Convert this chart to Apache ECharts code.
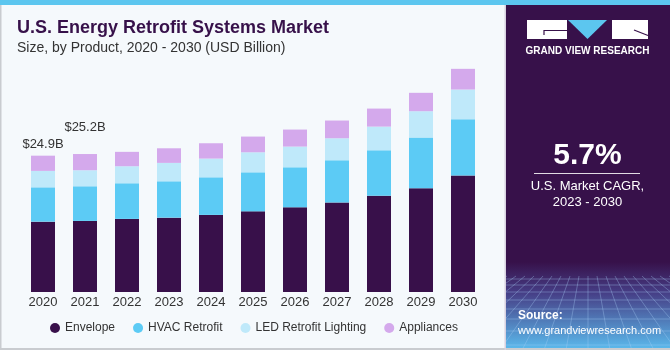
<!DOCTYPE html>
<html>
<head>
<meta charset="utf-8">
<title>U.S. Energy Retrofit Systems Market</title>
<script src="https://cdn.jsdelivr.net/npm/echarts@6/dist/echarts.min.js"></script>
<style>
    html, body { margin: 0; padding: 0; background: #f5f9fc; }
    #chart { width: 670px; height: 350px; }
</style>
</head>
<body>
<div id="chart"></div>
<script>
    // values (USD Billion)
    var years = ['2020', '2021', '2022', '2023', '2024', '2025', '2026', '2027', '2028', '2029', '2030'];
    var envelope = [12.85, 12.98, 13.35, 13.58, 14.08, 14.73, 15.47, 16.33, 17.60, 18.94, 21.26];
    var hvac = [6.27, 6.33, 6.51, 6.64, 6.87, 7.13, 7.31, 7.73, 8.28, 9.27, 10.29];
    var led = [3.00, 2.93, 3.11, 3.36, 3.42, 3.66, 3.78, 4.02, 4.33, 4.81, 5.43];
    var appliances = [2.78, 2.96, 2.63, 2.67, 2.80, 2.87, 3.11, 3.24, 3.29, 3.36, 3.78];
    var totalLabels = ['$24.9B', '$25.2B'];

    var font = 'Liberation Sans, Arial, sans-serif';
    var panel = '#37114a';

    // only the first two bars carry a total label
    var appData = appliances.map(function (v, i) {
        if (i < totalLabels.length) {
            return {
                value: v,
                label: {
                    show: true,
                    position: 'top',
                    distance: 5,
                    offset: [0, i === 1 ? -15 : 0],
                    formatter: totalLabels[i],
                    fontSize: 13,
                    color: '#333',
                    fontFamily: font
                }
            };
        }
        return v;
    });

    // background mesh in the bottom of the side panel
    var mesh = [];
    var meshY = [279, 285, 292, 300, 309, 319, 331, 345];
    meshY.forEach(function (y) {
        mesh.push({ type: 'line', shape: { x1: 506, y1: y, x2: 670, y2: y },
            style: { stroke: 'rgba(170,205,245,0.35)', lineWidth: 1 } });
    });
    for (var k = -10; k <= 10; k++) {
        mesh.push({ type: 'line', shape: { x1: 588 + k * 9, y1: 276, x2: 588 + k * 22, y2: 350 },
            style: { stroke: 'rgba(170,205,245,0.35)', lineWidth: 1 } });
    }

    var myChart = echarts.init(document.getElementById('chart'));
    var option = {
        backgroundColor: '#f5f9fc',
        textStyle: { fontFamily: font },
        animation: false,
        title: [
            {
                text: 'U.S. Energy Retrofit Systems Market',
                left: 17, top: 19, padding: 0,
                textStyle: { fontSize: 18, fontWeight: 'bold', color: panel, fontFamily: font }
            },
            {
                text: 'Size, by Product, 2020 - 2030 (USD Billion)',
                left: 17, top: 41, padding: 0,
                textStyle: { fontSize: 14, fontWeight: 'normal', color: '#333', fontFamily: font }
            }
        ],
        legend: {
            left: 50, top: 322, padding: 0,
            icon: 'circle', itemWidth: 10, itemHeight: 10, itemGap: 18,
            textStyle: { fontSize: 12, color: '#333', fontFamily: font },
            data: ['Envelope', 'HVAC Retrofit', 'LED Retrofit Lighting', 'Appliances']
        },
        grid: { left: 22, right: 186, top: 18.25, bottom: 58 },
        xAxis: {
            type: 'category',
            data: years,
            axisLine: { show: false },
            axisTick: { show: false },
            axisLabel: { margin: 4, fontSize: 13, color: '#333', fontFamily: font }
        },
        yAxis: { type: 'value', min: 0, max: 50, show: false },
        series: [
            { name: 'Envelope', type: 'bar', stack: 'total', barWidth: 24,
                itemStyle: { color: '#38104a' }, data: envelope },
            { name: 'HVAC Retrofit', type: 'bar', stack: 'total', barWidth: 24,
                itemStyle: { color: '#5ccbf5' }, data: hvac },
            { name: 'LED Retrofit Lighting', type: 'bar', stack: 'total', barWidth: 24,
                itemStyle: { color: '#bfe9fa' }, data: led },
            { name: 'Appliances', type: 'bar', stack: 'total', barWidth: 24,
                itemStyle: { color: '#d4a9ec' }, data: appData }
        ],
        graphic: [
            // side panel
            { type: 'rect', shape: { x: 506, y: 0, width: 164, height: 350 }, style: { fill: panel } },
            { type: 'rect', shape: { x: 506, y: 262, width: 164, height: 88 },
                style: { fill: new echarts.graphic.LinearGradient(0, 0, 0, 1, [
                    { offset: 0, color: 'rgba(55,17,74,1)' },
                    { offset: 0.35, color: '#463e86' },
                    { offset: 1, color: '#5bbcee' }
                ]) } },
            { type: 'group', children: mesh },
            // chart area background covers the mesh overflow
            { type: 'rect', shape: { x: 0, y: 0, width: 505, height: 350 }, style: { fill: '#f5f9fc' } },
            { type: 'rect', shape: { x: 0, y: 0, width: 1.5, height: 350 }, style: { fill: '#c9ccd0' } },
            { type: 'rect', shape: { x: 0, y: 348, width: 670, height: 2 }, style: { fill: '#c9ccd0' } },
            { type: 'rect', shape: { x: 504.5, y: 0, width: 1.5, height: 350 }, style: { fill: '#d8d2e0' } },
            { type: 'rect', shape: { x: 0, y: 0, width: 670, height: 5 }, style: { fill: '#5cc6ef' } },
            // logo
            { type: 'rect', shape: { x: 527, y: 20, width: 40, height: 19 }, style: { fill: '#fff' } },
            { type: 'polyline', shape: { points: [[567, 30.5], [544, 30.5], [544, 35]] },
                style: { stroke: panel, lineWidth: 1.2, fill: null } },
            { type: 'polygon', shape: { points: [[568, 20], [607, 20], [587.5, 39]] }, style: { fill: '#5cc6ef' } },
            { type: 'rect', shape: { x: 612, y: 20, width: 36, height: 19 }, style: { fill: '#fff' } },
            { type: 'line', shape: { x1: 634, y1: 30, x2: 648, y2: 35.5 }, style: { stroke: panel, lineWidth: 1.2 } },
            { type: 'text', x: 587.5, y: 51, style: { text: 'GRAND VIEW RESEARCH', fill: '#fff',
                font: 'bold 10px ' + font, textAlign: 'center', textVerticalAlign: 'middle' } },
            // CAGR
            { type: 'text', x: 587.5, y: 156, style: { text: '5.7%', fill: '#fff',
                font: 'bold 30px ' + font, textAlign: 'center', textVerticalAlign: 'middle' } },
            { type: 'line', shape: { x1: 534, y1: 173.5, x2: 640, y2: 173.5 },
                style: { stroke: 'rgba(255,255,255,0.85)', lineWidth: 1 } },
            { type: 'text', x: 587.5, y: 186, style: { text: 'U.S. Market CAGR,', fill: '#fff',
                font: '13px ' + font, textAlign: 'center', textVerticalAlign: 'middle' } },
            { type: 'text', x: 587.5, y: 202, style: { text: '2023 - 2030', fill: '#fff',
                font: '13px ' + font, textAlign: 'center', textVerticalAlign: 'middle' } },
            // source
            { type: 'text', x: 518, y: 316, style: { text: 'Source:', fill: '#fff',
                font: 'bold 12px ' + font, textAlign: 'left', textVerticalAlign: 'middle' } },
            { type: 'text', x: 518, y: 331, style: { text: 'www.grandviewresearch.com', fill: '#fff',
                font: '11px ' + font, textAlign: 'left', textVerticalAlign: 'middle' } }
        ]
    };
    myChart.setOption(option);
    window.onresize = function () {
        myChart.resize();
    };
</script>
</body>
</html>
